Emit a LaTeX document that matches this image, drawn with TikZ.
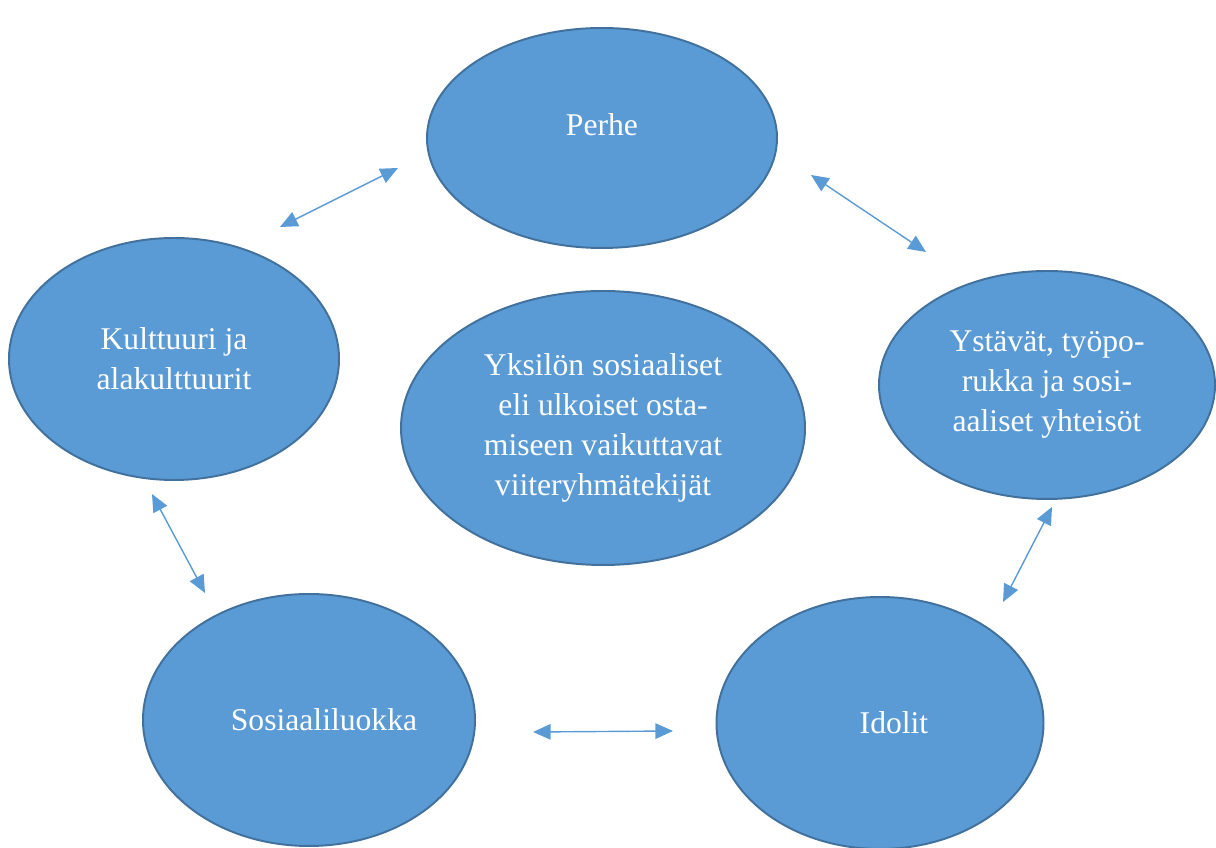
\documentclass[tikz,border=0pt]{standalone}
\usepackage{fontspec}
\setmainfont{Liberation Serif}
\usepackage{tikz}
\usetikzlibrary{shapes, arrows.meta, positioning,
                shapes.geometric
                }
\definecolor{ovalblue}{HTML}{5B9BD5}
\definecolor{ovaledge}{HTML}{41719C}

\begin{document}
\begin{tikzpicture}[
    oval/.style={ellipse, draw=ovaledge, line width=1.4pt, fill=ovalblue,
                 text=white, align=center, inner sep=0pt,
                 font=\fontsize{22.5}{28.5}\selectfont},
    link/.style={{Triangle[length=12.5pt,width=11pt]}-{Triangle[length=12.5pt,width=11pt]},
                 color=ovalblue, line width=1pt}
    ]
    \useasboundingbox (0,0) rectangle (30.4,21.2);

    \node[oval, minimum width=8.75cm, minimum height=5.5cm] (perhe) at (15.05,17.75)
        {Perhe\\[-0.35cm]\mbox{}};
    \node[oval, minimum width=8.25cm, minimum height=6.05cm] (kulttuuri) at (4.35,12.225)
        {Kulttuuri ja\\ alakulttuurit};
    \node[oval, minimum width=10.1cm, minimum height=6.85cm] (yksilo) at (15.075,10.5)
        {Yksilön sosiaaliset\\ eli ulkoiset osta-\\ miseen vaikuttavat\\ viiteryhmätekijät};
    \node[oval, minimum width=8.4cm, minimum height=5.7cm] (ystavat) at (26.175,11.575)
        {Ystävät, työpo-\\ rukka ja sosi-\\ aaliset yhteisöt};
    \node[oval, minimum width=8.3cm, minimum height=6.3cm] (luokka) at (7.725,3.2)
        {\hspace*{0.75cm}Sosiaaliluokka};
    \node[oval, minimum width=8.175cm, minimum height=6.3cm] (idolit) at (22.0,3.125)
        {\hspace*{0.7cm}Idolit};

    % free ends of the arrows
    \coordinate (pk1) at (7.0,15.525);   \coordinate (pk2) at (9.95,17.0);
    \coordinate (py1) at (20.275,16.825); \coordinate (py2) at (23.15,14.9);
    \coordinate (ks1) at (3.8,8.85);     \coordinate (ks2) at (5.125,6.375);
    \coordinate (yi1) at (26.3,8.525);   \coordinate (yi2) at (25.075,6.15);
    \coordinate (si1) at (13.325,2.9);   \coordinate (si2) at (16.825,2.925);

    \draw[link] (pk1) -- (pk2);
    \draw[link] (py1) -- (py2);
    \draw[link] (ks1) -- (ks2);
    \draw[link] (yi1) -- (yi2);
    \draw[link] (si1) -- (si2);
\end{tikzpicture}
\end{document}
